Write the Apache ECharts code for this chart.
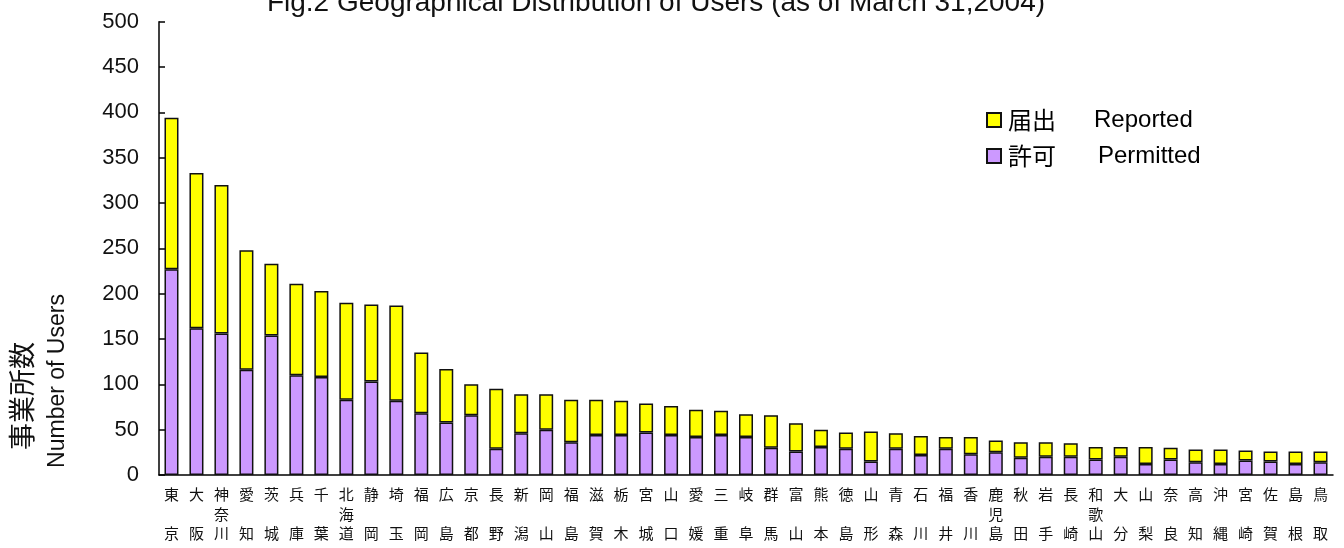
<!DOCTYPE html>
<html>
<head>
<meta charset="utf-8">
<script src="https://cdn.jsdelivr.net/npm/echarts@6/dist/echarts.min.js"></script>
<style>
html,body{margin:0;padding:0;background:#fff;}
#chart{width:1344px;height:548px;}
</style>
</head>
<body>
<div id="chart"></div>
<script>
const categories = ['東京','大阪','神奈川','愛知','茨城','兵庫','千葉','北海道','静岡','埼玉','福岡','広島','京都','長野','新潟','岡山','福島','滋賀','栃木','宮城','山口','愛媛','三重','岐阜','群馬','富山','熊本','徳島','山形','青森','石川','福井','香川','鹿児島','秋田','岩手','長崎','和歌山','大分','山梨','奈良','高知','沖縄','宮崎','佐賀','島根','鳥取'];
const permitted = [227,162,156,116,154,110,108,83,103,82,68,58,66,29,46,50,36,44,44,47,44,42,44,42,30,26,31,29,15,29,22,29,23,25,19,20,20,17,20,12,17,14,12,16,15,12,14];
const reported = [167,171,164,132,79,101,95,107,85,105,67,59,34,66,43,39,47,39,38,32,32,30,27,25,36,31,19,18,33,17,21,13,19,13,17,16,15,14,11,19,13,14,16,11,11,14,12];
const yTicks = [0,50,100,150,200,250,300,350,400,450,500];
const titleText = 'Fig.2 Geographical Distribution of Users (as of March 31,2004)';

const FONT = '"Liberation Sans", Arial, "Noto Sans CJK JP", sans-serif';
const CJK = '"Noto Sans CJK JP", "Liberation Sans", sans-serif';

const chart = echarts.init(document.getElementById('chart'));
const option = {
  animation: false,
  backgroundColor: '#fff',
  grid: {left: 159, right: 11, top: 21.7, bottom: 73, containLabel: false},
  legend: {
    orient: 'vertical',
    left: 986,
    top: 108,
    padding: 0,
    itemWidth: 14,
    itemHeight: 14,
    itemGap: 12,
    icon: 'rect',
    data: ['届出','許可'],
    formatter: function(n){
      return n === '届出' ? '{a|届出}{b|Reported}' : '{a|許可}{c|Permitted}';
    },
    textStyle: {
      color: '#000',
      rich: {
        a: {fontFamily: CJK, fontSize: 24, width: 86, lineHeight: 28, color:'#000', padding:[0,0,0,2]},
        b: {fontFamily: FONT, fontSize: 24, lineHeight: 28, color:'#000'},
        c: {fontFamily: FONT, fontSize: 24, lineHeight: 28, color:'#000', padding:[0,0,0,4]}
      }
    }
  },
  xAxis: {
    type: 'category',
    data: categories,
    axisLine: {lineStyle: {color: '#000', width: 1.5}},
    axisTick: {show: false},
    axisLabel: {
      interval: 0,
      margin: 10,
      fontFamily: CJK,
      fontSize: 15,
      lineHeight: 19.5,
      color: '#111',
      formatter: function(v){
        const c = v.split('');
        return c.length === 2 ? c[0] + '\n\n' + c[1] : c.join('\n');
      }
    }
  },
  yAxis: {
    type: 'value',
    min: 0,
    max: 500,
    interval: 50,
    axisLine: {show: true, lineStyle: {color: '#000', width: 1.5}},
    axisTick: {show: true, inside: true, length: 6, lineStyle: {color: '#000', width: 1.5}},
    splitLine: {show: false},
    axisLabel: {
      margin: 20,
      fontFamily: FONT,
      fontSize: 22,
      color: '#111',
      formatter: function(v){ return yTicks.indexOf(v) >= 0 ? String(v) : ''; }
    }
  },
  series: [
    {
      name: '許可',
      type: 'bar',
      stack: 's',
      barWidth: 14,
      data: permitted,
      itemStyle: {color: '#CC99FF', borderColor: '#111', borderWidth: 1.5}
    },
    {
      name: '届出',
      type: 'bar',
      stack: 's',
      barWidth: 14,
      data: reported,
      itemStyle: {color: '#FFFF00', borderColor: '#111', borderWidth: 1.5}
    }
  ],
  graphic: [
    {
      type: 'text', x: 656, y: 3,
      style: {text: titleText, font: '28px ' + FONT, fill: '#111', textAlign: 'center', textVerticalAlign: 'middle'}
    },
    {
      type: 'text', x: 22, y: 396, rotation: Math.PI/2,
      style: {text: '事業所数', font: '27px ' + CJK, fill: '#111', textAlign: 'center', textVerticalAlign: 'middle'}
    },
    {
      type: 'text', x: 58, y: 381, rotation: Math.PI/2,
      style: {text: 'Number of Users', font: '23px ' + FONT, fill: '#111', textAlign: 'center', textVerticalAlign: 'middle'}
    }
  ]
};
chart.setOption(option);
</script>
</body>
</html>
